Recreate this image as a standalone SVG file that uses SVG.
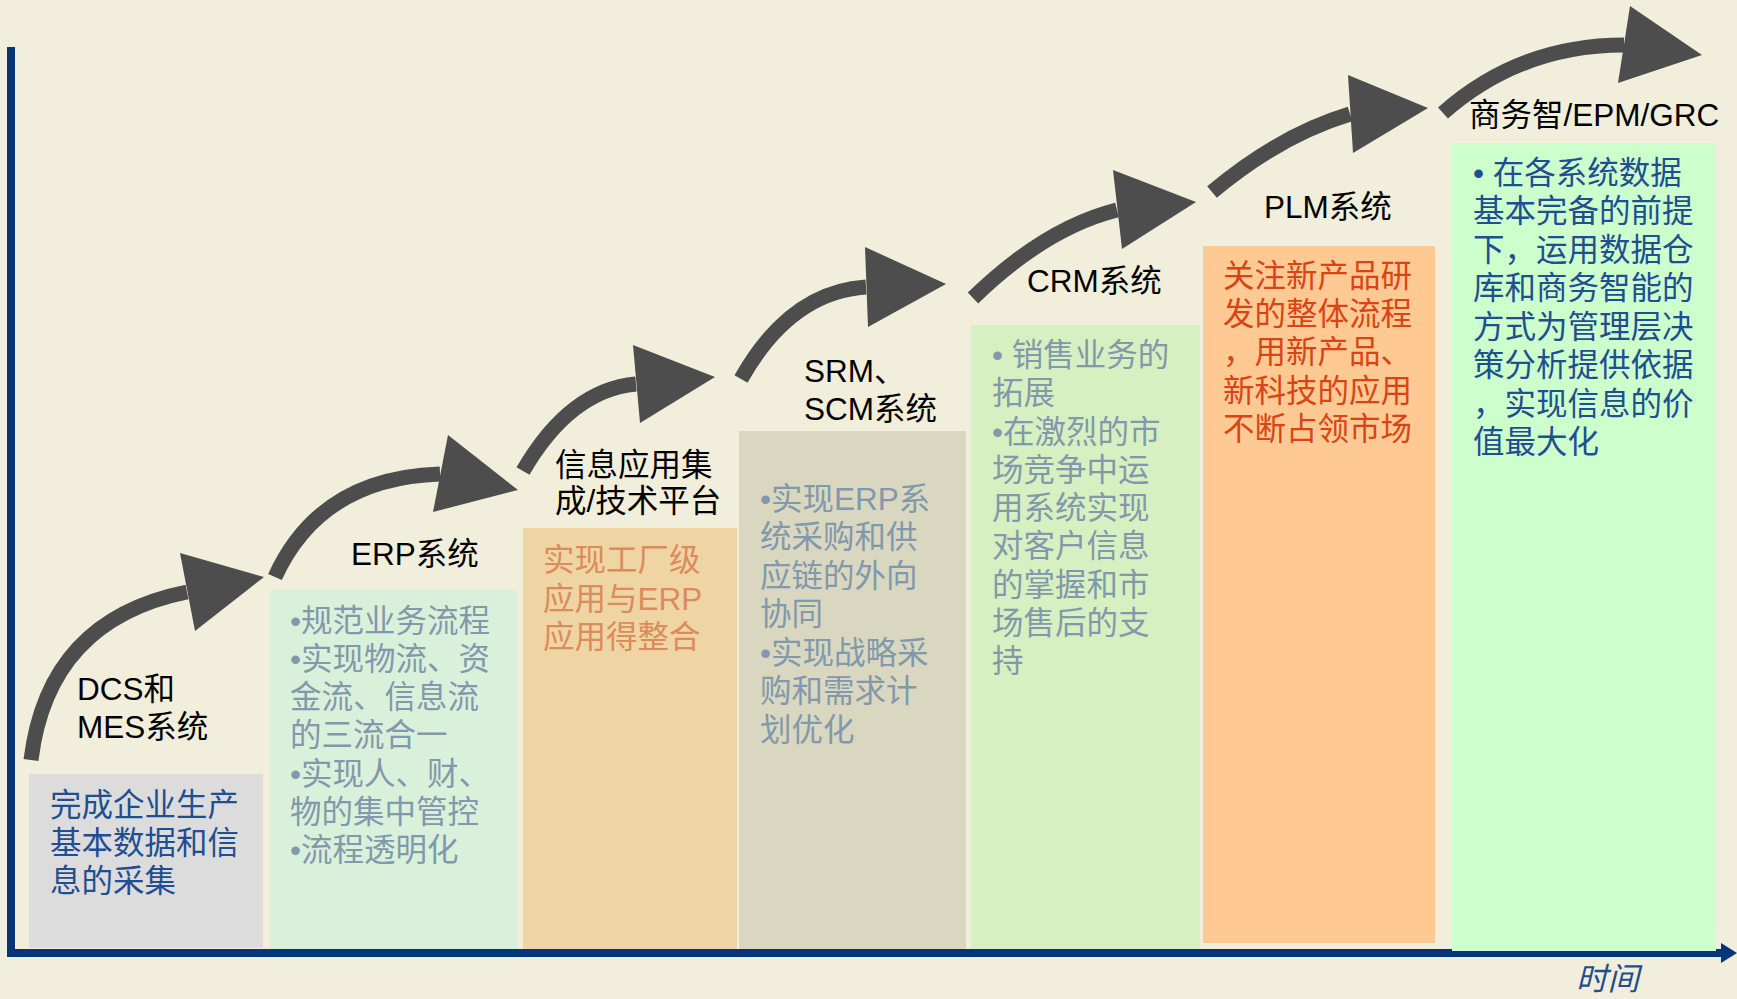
<svg xmlns="http://www.w3.org/2000/svg" width="1737" height="999" viewBox="0 0 1737 999">
<style>
text{font-family:"Liberation Sans","Noto Sans CJK SC",sans-serif;font-size:31.5px}
.lbl{fill:#000}
.blue{fill:#1f4e91}
.grey{fill:#8298ab}
.tan{fill:#db8b5c}
.red{fill:#d94414}
.shaft{fill:none;stroke:#4d4d4d;stroke-width:15}
.head{fill:#4d4d4d}
.axis{fill:#06357a}
</style>
<rect width="1737" height="999" fill="#f1efdb"/>
<g id="axes">
<rect class="axis" x="7" y="47" width="8" height="910"/>
<rect class="axis" x="7" y="949" width="1716" height="8"/>
<polygon class="axis" points="1721,943 1737,953 1721,963"/>
<text x="1576" y="990" class="blue" font-style="italic" font-size="30">时间</text>
</g>
<g id="node-dcs">
<rect x="29" y="774" width="234" height="174" fill="#dcdcdc"/>
<text class="lbl"><tspan x="77" y="700">DCS和</tspan><tspan x="77" y="738">MES系统</tspan></text>
<text class="blue"><tspan x="50" y="816">完成企业生产</tspan><tspan x="50" y="854">基本数据和信</tspan><tspan x="50" y="892">息的采集</tspan></text>
</g>
<g id="node-erp">
<rect x="270" y="590" width="247" height="359" fill="#d9f0db"/>
<text class="lbl" x="351" y="565">ERP系统</text>
<text class="grey"><tspan x="290" y="632">•规范业务流程</tspan><tspan x="290" y="670">•实现物流、资</tspan><tspan x="290" y="708">金流、信息流</tspan><tspan x="290" y="746">的三流合一</tspan><tspan x="290" y="785">•实现人、财、</tspan><tspan x="290" y="823">物的集中管控</tspan><tspan x="290" y="861">•流程透明化</tspan></text>
</g>
<g id="node-integration">
<rect x="523" y="528" width="214" height="421" fill="#efd5a3"/>
<text class="lbl"><tspan x="555" y="476">信息应用集</tspan><tspan x="555" y="512">成/技术平台</tspan></text>
<text class="tan"><tspan x="543" y="571">实现工厂级</tspan><tspan x="543" y="610">应用与ERP</tspan><tspan x="543" y="648">应用得整合</tspan></text>
</g>
<g id="node-srm">
<rect x="739" y="431" width="227" height="518" fill="#d9d7c0"/>
<text class="lbl"><tspan x="804" y="382">SRM、</tspan><tspan x="804" y="420">SCM系统</tspan></text>
<text class="grey"><tspan x="760" y="510">•实现ERP系</tspan><tspan x="760" y="548">统采购和供</tspan><tspan x="760" y="587">应链的外向</tspan><tspan x="760" y="625">协同</tspan><tspan x="760" y="664">•实现战略采</tspan><tspan x="760" y="702">购和需求计</tspan><tspan x="760" y="741">划优化</tspan></text>
</g>
<g id="node-crm">
<rect x="971" y="325" width="229" height="624" fill="#d7f0c1"/>
<text class="lbl" x="1027" y="292">CRM系统</text>
<text class="grey"><tspan x="992" y="366">• 销售业务的</tspan><tspan x="992" y="404">拓展</tspan><tspan x="992" y="443">•在激烈的市</tspan><tspan x="992" y="481">场竞争中运</tspan><tspan x="992" y="519">用系统实现</tspan><tspan x="992" y="557">对客户信息</tspan><tspan x="992" y="596">的掌握和市</tspan><tspan x="992" y="634">场售后的支</tspan><tspan x="992" y="672">持</tspan></text>
</g>
<g id="node-plm">
<rect x="1203" y="246" width="232" height="697" fill="#ffc994"/>
<text class="lbl" x="1264" y="218">PLM系统</text>
<text class="red"><tspan x="1223" y="287">关注新产品研</tspan><tspan x="1223" y="325">发的整体流程</tspan><tspan x="1223" y="363">，用新产品、</tspan><tspan x="1223" y="402">新科技的应用</tspan><tspan x="1223" y="440">不断占领市场</tspan></text>
</g>
<g id="node-bi">
<rect x="1452" y="143" width="264" height="808" fill="#ccffcc"/>
<text class="lbl" x="1469" y="126">商务智/EPM/GRC</text>
<text class="blue"><tspan x="1473" y="184">• 在各系统数据</tspan><tspan x="1473" y="222">基本完备的前提</tspan><tspan x="1473" y="261">下，运用数据仓</tspan><tspan x="1473" y="299">库和商务智能的</tspan><tspan x="1473" y="338">方式为管理层决</tspan><tspan x="1473" y="376">策分析提供依据</tspan><tspan x="1473" y="415">，实现信息的价</tspan><tspan x="1473" y="453">值最大化</tspan></text>
</g>
<g id="connectors">
<path class="shaft" d="M31,760 Q48,620 187,592"/>
<polygon class="head" points="180,553 264,577 195,631"/>
<path class="shaft" d="M275,577 Q320,478 440,474"/>
<polygon class="head" points="448,435 518,490 433,512"/>
<path class="shaft" d="M523,471 Q570,390 636,384"/>
<polygon class="head" points="633,345 715,377 640,423"/>
<path class="shaft" d="M741,379 Q790,292 866,287"/>
<polygon class="head" points="865,247 946,284 868,327"/>
<path class="shaft" d="M973,298 Q1045,228 1117,210"/>
<polygon class="head" points="1113,170 1196,202 1122,249"/>
<path class="shaft" d="M1212,192 Q1280,135 1350,114"/>
<polygon class="head" points="1348,75 1428,108 1353,153"/>
<path class="shaft" d="M1443,113 Q1520,45 1624,45"/>
<polygon class="head" points="1630,6 1702,55 1618,83"/>
</g>
</svg>
